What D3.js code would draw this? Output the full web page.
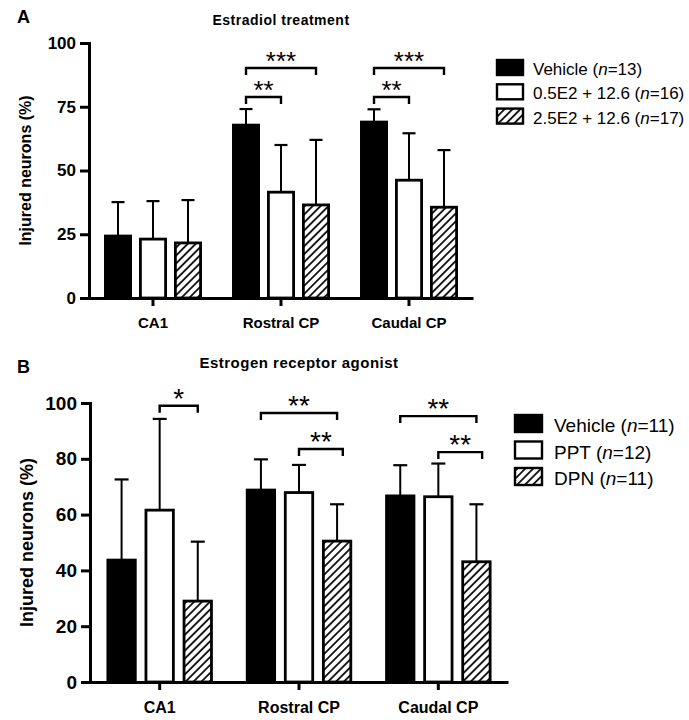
<!DOCTYPE html>
<html><head><meta charset="utf-8">
<script src="https://cdn.jsdelivr.net/npm/d3@7"></script>
<style>
body{margin:0;background:#fff}
svg{display:block}
text{font-family:"Liberation Sans",Arial,Helvetica,sans-serif}
</style>
</head><body>
<script>
// ---------- DATA ----------
const categories = ["CA1", "Rostral CP", "Caudal CP"];

// Panel A: Estradiol treatment
const seriesNamesA = ["Vehicle", "0.5E2 + 12.6", "2.5E2 + 12.6"];
const seriesNA = [13, 16, 17];
const vehicleA = [24.3, 67.8, 69.0];
const lowE2A = [23.1, 41.5, 46.2];
const highE2A = [21.6, 36.5, 35.6];
const vehicleErrA = [13.3, 6.3, 5.0];
const lowE2ErrA = [14.9, 18.5, 18.4];
const highE2ErrA = [16.8, 25.5, 22.4];
const yTicksA = [0, 25, 50, 75, 100];
const sigA = [
  {cat: 1, from: 0, to: 2, y: 90.2, label: "***"},
  {cat: 1, from: 0, to: 1, y: 78.8, label: "**"},
  {cat: 2, from: 0, to: 2, y: 90.2, label: "***"},
  {cat: 2, from: 0, to: 1, y: 78.8, label: "**"}
];

// Panel B: Estrogen receptor agonist
const seriesNamesB = ["Vehicle", "PPT", "DPN"];
const seriesNB = [11, 12, 11];
const vehicleB = [43.7, 68.8, 66.7];
const pptB = [61.6, 67.9, 66.4];
const dpnB = [29.0, 50.5, 43.1];
const vehicleErrB = [28.9, 11.0, 11.0];
const pptErrB = [32.7, 9.9, 11.9];
const dpnErrB = [21.3, 13.2, 20.6];
const yTicksB = [0, 20, 40, 60, 80, 100];
const sigB = [
  {cat: 0, from: 1, to: 2, y: 99.0, label: "*"},
  {cat: 1, from: 0, to: 2, y: 96.4, label: "**"},
  {cat: 1, from: 1, to: 2.15, y: 83.5, label: "**"},
  {cat: 2, from: 0, to: 2, y: 95.3, label: "**"},
  {cat: 2, from: 1, to: 2.15, y: 82.4, label: "**"}
];

// ---------- DRAW ----------
const W = 689, H = 720;
const svg = d3.select("body").append("svg").attr("width", W).attr("height", H);
const defs = svg.append("defs");
const pat = defs.append("pattern").attr("id", "hatch")
  .attr("patternUnits", "userSpaceOnUse").attr("width", 5.6).attr("height", 5.6)
  .attr("patternTransform", "rotate(45)");
pat.append("rect").attr("width", 5.6).attr("height", 5.6).attr("fill", "#fff");
pat.append("line").attr("x1", 2.8).attr("x2", 2.8).attr("y1", 0).attr("y2", 5.6)
  .attr("stroke", "#000").attr("stroke-width", 1.7);

const fills = ["#000", "#fff", "url(#hatch)"];

function drawPanel(o) {
  const g = svg.append("g");
  const x = d3.scaleBand().domain(categories).range([o.x0, o.x1]);
  const bw = x.bandwidth();
  const sub = d3.scaleBand().domain([0, 1, 2]).range([-0.41 * bw, 0.41 * bw])
    .paddingInner(0.28).paddingOuter(0.14);
  const subCenter = s => sub(Math.floor(s)) + sub.bandwidth() / 2 + (s - Math.floor(s)) * sub.step();
  const y = d3.scaleLinear().domain([0, 100]).range([o.yb, o.yt]);
  const cx = c => x(categories[c]) + bw / 2;

  // bars and error bars
  o.values.forEach((vals, s) => {
    vals.forEach((v, c) => {
      const bx = cx(c) + sub(s);
      const mid = bx + sub.bandwidth() / 2;
      const top = y(v + o.errs[s][c]);
      g.append("line").attr("x1", mid).attr("x2", mid).attr("y1", y(v)).attr("y2", top)
        .attr("stroke", "#000").attr("stroke-width", 2);
      g.append("line").attr("x1", mid - o.cap / 2).attr("x2", mid + o.cap / 2)
        .attr("y1", top).attr("y2", top).attr("stroke", "#000").attr("stroke-width", 2.2);
      g.append("rect").attr("x", bx).attr("y", y(v))
        .attr("width", sub.bandwidth()).attr("height", y(0) - y(v))
        .attr("fill", fills[s]).attr("stroke", "#000").attr("stroke-width", 2.8);
    });
  });

  // significance brackets
  o.sig.forEach(b => {
    const xa = cx(b.cat) + subCenter(b.from);
    const xb = cx(b.cat) + subCenter(b.to);
    const yy = y(b.y);
    g.append("path").attr("d", `M${xa},${yy + o.brTick}V${yy}H${xb}V${yy + o.brTick}`)
      .attr("fill", "none").attr("stroke", "#000").attr("stroke-width", 2.4);
    g.append("text").attr("x", (xa + xb) / 2).attr("y", yy + o.starDy)
      .attr("text-anchor", "middle").attr("font-size", o.starSize).text(b.label);
  });

  // y axis
  const ya = g.append("g").attr("transform", `translate(${o.x0},0)`)
    .call(d3.axisLeft(y).tickValues(o.ticks).tickSize(o.tickLen).tickPadding(4).tickSizeOuter(0));
  ya.select(".domain").attr("stroke-width", 3).attr("stroke-linecap", "square");
  ya.selectAll(".tick line").attr("stroke-width", 3);
  ya.selectAll(".tick text").attr("font-size", o.tickFont).attr("font-weight", "bold")
    .attr("font-family", "Liberation Sans, Arial, sans-serif").attr("fill", "#000");

  // x axis
  const xa = g.append("g").attr("transform", `translate(0,${y(0)})`)
    .call(d3.axisBottom(x).tickSize(o.tickLen - 1).tickPadding(o.catPad).tickSizeOuter(0));
  xa.select(".domain").attr("stroke-width", 3);
  xa.selectAll(".tick line").attr("stroke-width", 3);
  xa.selectAll(".tick text").attr("font-size", o.catFont).attr("font-weight", "bold")
    .attr("font-family", "Liberation Sans, Arial, sans-serif").attr("fill", "#000");

  // y label
  g.append("text").attr("transform", `translate(${o.ylabX},${(y(0) + y(100)) / 2}) rotate(-90)`)
    .attr("text-anchor", "middle").attr("font-weight", "bold").attr("font-size", o.ylabFont)
    .text("Injured neurons (%)");

  // title
  g.append("text").attr("x", cx(1)).attr("y", o.titleY).attr("text-anchor", "middle")
    .attr("font-weight", "bold").attr("font-size", o.titleFont).attr("letter-spacing", o.titleLS)
    .text(o.title);
  // panel letter
  g.append("text").attr("x", 17).attr("y", o.letterY).attr("font-weight", "bold")
    .attr("font-size", 18).text(o.letter);

  // legend
  o.names.forEach((nm, s) => {
    const ly = o.legY + s * o.legStep;
    g.append("rect").attr("x", o.legX).attr("y", ly).attr("width", o.legW).attr("height", o.legH)
      .attr("fill", fills[s]).attr("stroke", "#000").attr("stroke-width", 2.4);
    const t = g.append("text").attr("x", o.legX + o.legW + o.legGap).attr("y", ly + o.legH)
      .attr("font-size", o.legFont);
    t.append("tspan").text(nm + " (");
    t.append("tspan").attr("font-style", "italic").text("n");
    t.append("tspan").text("=" + o.ns[s] + ")");
  });
}

drawPanel({
  x0: 89, x1: 473, yb: 298, yt: 43, ticks: yTicksA,
  values: [vehicleA, lowE2A, highE2A], errs: [vehicleErrA, lowE2ErrA, highE2ErrA],
  sig: sigA, cap: 13, brTick: 7, starDy: 2, starSize: 26,
  tickLen: 9, tickFont: 17, catFont: 15, catPad: 11,
  ylabX: 31, ylabFont: 16, title: "Estradiol treatment", titleY: 25, titleFont: 14, titleLS: 0.5,
  letter: "A", letterY: 23,
  names: seriesNamesA, ns: seriesNA, legX: 497, legY: 60, legStep: 24.3, legW: 26, legH: 15,
  legGap: 10, legFont: 17
});

drawPanel({
  x0: 90, x1: 508, yb: 682, yt: 403, ticks: yTicksB,
  values: [vehicleB, pptB, dpnB], errs: [vehicleErrB, pptErrB, dpnErrB],
  sig: sigB, cap: 14, brTick: 7, starDy: 2, starSize: 28,
  tickLen: 9, tickFont: 19, catFont: 16, catPad: 12,
  ylabX: 33, ylabFont: 18, title: "Estrogen receptor agonist", titleY: 368, titleFont: 15, titleLS: 0.5,
  letter: "B", letterY: 373,
  names: seriesNamesB, ns: seriesNB, legX: 515, legY: 415, legStep: 26.5, legW: 27, legH: 17,
  legGap: 12, legFont: 19
});
</script>
</body></html>
